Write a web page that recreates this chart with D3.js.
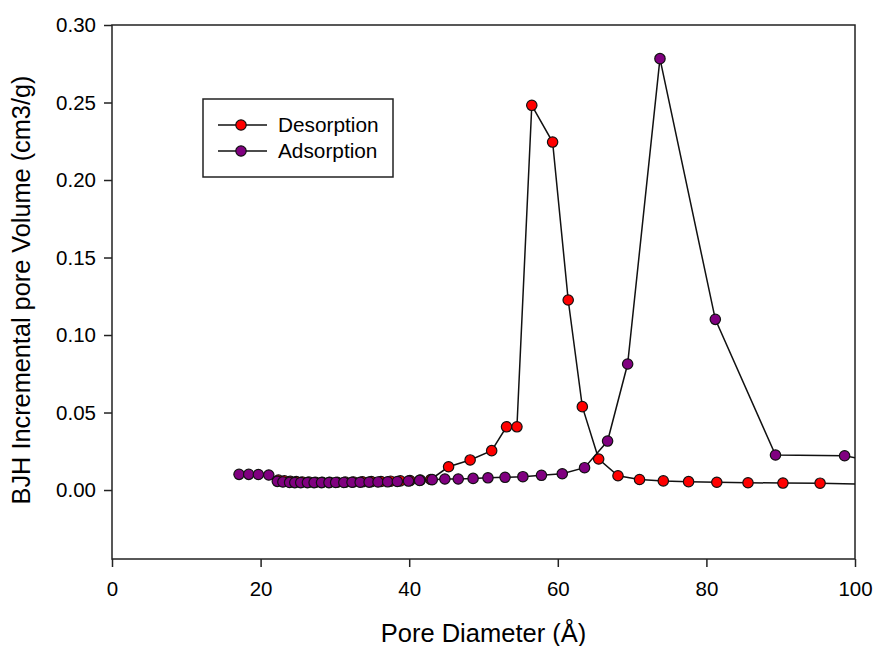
<!DOCTYPE html>
<html>
<head>
<meta charset="utf-8">
<script src="https://cdn.jsdelivr.net/npm/d3@7"></script>
<style>
  body { margin: 0; background: #fff; }
  svg text { font-family: Arial, "Liberation Sans", sans-serif; fill: #000; }
</style>
</head>
<body>
<div id="chart"></div>
<script>
// pore diameter (A) and BJH incremental pore volume (cm3/g)
var desorption_x = [22.4, 23.2, 24.0, 24.8, 25.6, 26.5, 27.4, 28.3, 29.3, 30.3, 31.4, 32.5, 33.7, 34.9,
    36.2, 37.5, 38.8, 40.1, 41.5, 42.9, 45.3, 48.2, 51.1, 53.1, 54.5, 56.5, 59.3, 61.4, 63.3, 65.5,
    68.1, 71.0, 74.2, 77.6, 81.4, 85.6, 90.3, 95.3, 101.5];
var desorption_y = [0.0064, 0.0059, 0.0056, 0.0054, 0.0052, 0.0051, 0.0050, 0.0050, 0.0050, 0.0050, 0.0051, 0.0052, 0.0053, 0.0054,
    0.0055, 0.0057, 0.0059, 0.0061, 0.0064, 0.0068, 0.0150, 0.0194, 0.0254, 0.0408, 0.0408, 0.2482, 0.2245, 0.1226, 0.0538, 0.0200,
    0.0092, 0.0068, 0.0059, 0.0054, 0.0050, 0.0047, 0.0045, 0.0044, 0.0037];

var adsorption_x = [17.1, 18.4, 19.7, 21.1, 22.25, 23.0, 23.9, 24.6, 25.4, 26.3, 27.2, 28.2, 29.2, 30.1,
    31.2, 32.3, 33.4, 34.6, 35.8, 37.1, 38.4, 39.9, 41.4, 43.1, 44.8, 46.6, 48.6, 50.6, 52.9, 55.3,
    57.8, 60.6, 63.6, 66.7, 69.4, 73.75, 81.2, 89.3, 98.6, 103.0];
var adsorption_y = [0.0101, 0.0101, 0.0100, 0.0097, 0.0056, 0.0052, 0.0049, 0.0048, 0.0048, 0.0048, 0.0048, 0.0048, 0.0048, 0.0049,
    0.0049, 0.0050, 0.0050, 0.0051, 0.0052, 0.0053, 0.0055, 0.0058, 0.0062, 0.0067, 0.0071, 0.0071, 0.0075, 0.0079, 0.0082, 0.0086,
    0.0095, 0.0105, 0.0144, 0.0316, 0.0813, 0.2783, 0.1101, 0.0226, 0.0221, 0.0183];

var x_ticks = [0, 20, 40, 60, 80, 100];
var y_ticks = [0.00, 0.05, 0.10, 0.15, 0.20, 0.25, 0.30];
var series_names = ["Desorption", "Adsorption"];
var series_colors = ["#ff0000", "#800080"];

var width = 874, height = 646;
var margin = {top: 25, right: 19, bottom: 87, left: 112};
var plot_w = width - margin.left - margin.right,
    plot_h = height - margin.top - margin.bottom;

var svg = d3.select("#chart").append("svg")
    .attr("width", width)
    .attr("height", height);

var x = d3.scaleLinear().domain([0, 100]).range([0, plot_w]);
var y = d3.scaleLinear().domain([-0.0445, 0.30]).range([plot_h, 0]);

var g = svg.append("g")
    .attr("transform", "translate(" + margin.left + "," + margin.top + ")");

g.append("defs").append("clipPath")
    .attr("id", "plotclip")
  .append("rect")
    .attr("width", plot_w)
    .attr("height", plot_h);

// box
g.append("rect")
    .attr("width", plot_w)
    .attr("height", plot_h)
    .attr("fill", "none")
    .attr("stroke", "#222")
    .attr("stroke-width", 1.5);

// axes
var xAxis = g.append("g")
    .attr("transform", "translate(0," + plot_h + ")")
    .call(d3.axisBottom(x).tickValues(x_ticks).tickSize(8).tickPadding(14).tickFormat(d3.format("d")));
var yAxis = g.append("g")
    .call(d3.axisLeft(y).tickValues(y_ticks).tickSize(8).tickPadding(8).tickFormat(d3.format(".2f")));

[xAxis, yAxis].forEach(function(a) {
    a.select(".domain").remove();
    a.selectAll("line").attr("stroke", "#222").attr("stroke-width", 1.5);
    a.selectAll("text").style("font-size", "20.5px").attr("font-family", null);
});

// axis titles
g.append("text")
    .attr("x", plot_w / 2)
    .attr("y", plot_h + 83)
    .attr("text-anchor", "middle")
    .style("font-size", "25.5px")
    .text("Pore Diameter (\u00c5)");

g.append("text")
    .attr("transform", "translate(" + (30 - margin.left) + "," + (plot_h / 2 - 2) + ") rotate(-90)")
    .attr("text-anchor", "middle")
    .style("font-size", "25.3px")
    .text("BJH Incremental pore Volume (cm3/g)");

// series
var series = [
    d3.zip(desorption_x, desorption_y),
    d3.zip(adsorption_x, adsorption_y)
];

var line = d3.line()
    .x(function(d) { return x(d[0]); })
    .y(function(d) { return y(d[1]); });

var plot = g.append("g").attr("clip-path", "url(#plotclip)");

series.forEach(function(s, i) {
    var sg = plot.append("g");
    sg.append("path")
        .datum(s)
        .attr("d", line)
        .attr("fill", "none")
        .attr("stroke", "#111")
        .attr("stroke-width", 1.5);
    sg.selectAll("circle")
        .data(s)
      .enter().append("circle")
        .attr("cx", function(d) { return x(d[0]); })
        .attr("cy", function(d) { return y(d[1]); })
        .attr("r", 5.2)
        .attr("fill", series_colors[i])
        .attr("stroke", "#111")
        .attr("stroke-width", 1.2);
});

// legend
var legend = svg.append("g").attr("transform", "translate(203,99)");
legend.append("rect")
    .attr("width", 190)
    .attr("height", 78)
    .attr("fill", "#fff")
    .attr("stroke", "#222")
    .attr("stroke-width", 1.5);

series_names.forEach(function(name, i) {
    var row = legend.append("g").attr("transform", "translate(0," + (26 + i * 26) + ")");
    row.append("line")
        .attr("x1", 15).attr("x2", 64)
        .attr("stroke", "#111").attr("stroke-width", 1.5);
    row.append("circle")
        .attr("cx", 38).attr("r", 5.2)
        .attr("fill", series_colors[i])
        .attr("stroke", "#111").attr("stroke-width", 1.2);
    row.append("text")
        .attr("x", 75).attr("y", 7)
        .style("font-size", "20.8px")
        .text(name);
});
</script>
</body>
</html>
